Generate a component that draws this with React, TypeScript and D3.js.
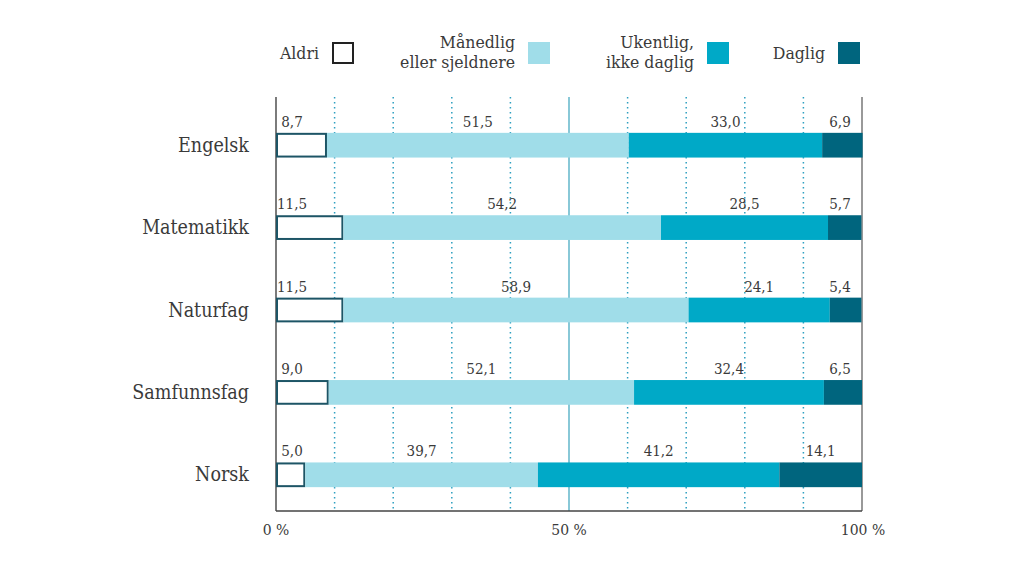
import React from "react";
import * as d3 from "d3";

const categories = ["Engelsk", "Matematikk", "Naturfag", "Samfunnsfag", "Norsk"];
const seriesNames = ["Aldri", "Månedlig eller sjeldnere", "Ukentlig, ikke daglig", "Daglig"];
const aldri = [8.7, 11.5, 11.5, 9.0, 5.0];
const maanedlig = [51.5, 54.2, 58.9, 52.1, 39.7];
const ukentlig = [33.0, 28.5, 24.1, 32.4, 41.2];
const daglig = [6.9, 5.7, 5.4, 6.5, 14.1];
const tickValues = [0, 50, 100];
const gridValues = [10, 20, 30, 40, 60, 70, 80, 90];

const colors = ["#ffffff", "#a0dde9", "#00a9c7", "#00657e"];
const FONT = "'DejaVu Serif Condensed', 'DejaVu Serif', serif";
const TEXT = "#3a3a3a";

export default function App() {
  const W = 1024, H = 563;
  const x = d3.scaleLinear().domain([0, 100]).range([276, 862]);
  const y = d3.scaleBand().domain(categories).range([104, 516]).paddingInner(0.7).paddingOuter(0.35);
  const series = [aldri, maanedlig, ukentlig, daglig];
  const top = 97, bottom = 511;
  const fmt = (v: number) => v.toFixed(1).replace(".", ",");

  const legend = [
    { lines: ["Aldri"], box: 332 },
    { lines: ["Månedlig", "eller sjeldnere"], box: 528 },
    { lines: ["Ukentlig,", "ikke daglig"], box: 707 },
    { lines: ["Daglig"], box: 838 },
  ];

  return (
    <svg width={W} height={H} style={{ position: "absolute", left: 0, top: 0 }} fontFamily={FONT}>
      <rect width={W} height={H} fill="#fff" />
      {/* legend */}
      {legend.map((l, i) => (
        <g key={i}>
          {l.lines.map((t, j) => (
            <text key={j} x={l.box - 13} y={l.lines.length === 1 ? 59 : 48 + j * 20} textAnchor="end"
              fontSize={17.5} fill={TEXT}>{t}</text>
          ))}
          <rect x={l.box + (i === 0 ? 1 : 0)} y={42 + (i === 0 ? 1 : 0)} width={i === 0 ? 20 : 22} height={i === 0 ? 20 : 22}
            fill={colors[i]} stroke={i === 0 ? "#222" : "none"} strokeWidth={2} />
        </g>
      ))}
      {/* grid */}
      {gridValues.map((g) => (
        <line key={g} x1={x(g)} x2={x(g)} y1={top} y2={bottom} stroke="#2d9fc0" strokeWidth={1.5} strokeDasharray="1.5,3.5" />
      ))}
      <line x1={x(50)} x2={x(50)} y1={top} y2={bottom} stroke="#3aa3bd" strokeWidth={1.2} />
      <line x1={x(100)} x2={x(100)} y1={top} y2={bottom} stroke="#555" strokeWidth={1.2} />
      <line x1={x(0)} x2={x(0)} y1={top} y2={bottom} stroke="#444" strokeWidth={1.4} />
      <line x1={x(0)} x2={x(100)} y1={bottom} y2={bottom} stroke="#444" strokeWidth={1.4} />
      {/* bars */}
      {categories.map((c, ci) => {
        let cum = 0;
        const y0 = y(c)!;
        const bh = y.bandwidth();
        return (
          <g key={c}>
            <text x={249} y={y0 + bh / 2 + 6.5} textAnchor="end" fontSize={19.5} fill={TEXT}>{c}</text>
            {series.map((s, si) => {
              const v = s[ci];
              const x0 = x(cum);
              const x1 = x(Math.min(cum + v, 100.2));
              cum += v;
              let cx = (x0 + x1) / 2;
              if (si === 0) cx = x0 + 16;
              if (si === 3) cx = Math.min(cx, 840);
              return (
                <g key={si}>
                  {si === 0 ? (
                    <rect x={x0 + 1} y={y0 + 1} width={x1 - x0 - 2} height={bh - 2} fill="#fff" stroke="#1d5566" strokeWidth={2} />
                  ) : (
                    <rect x={x0} y={y0} width={x1 - x0} height={bh} fill={colors[si]} />
                  )}
                  <text x={cx} y={y0 - 6} textAnchor="middle" fontSize={15} fill={TEXT}>{fmt(v)}</text>
                </g>
              );
            })}
          </g>
        );
      })}
      {/* x ticks */}
      {tickValues.map((t) => (
        <text key={t} x={x(t) + (t === 100 ? 1 : 0)} y={535} textAnchor="middle" fontSize={15.5} fill={TEXT}>{t} %</text>
      ))}
    </svg>
  );
}
